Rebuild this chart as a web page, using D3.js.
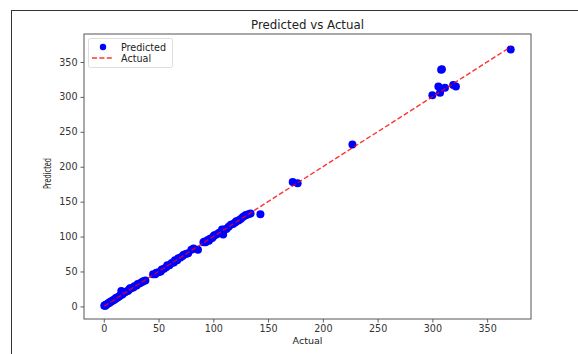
<!DOCTYPE html>
<html>
<head>
<meta charset="utf-8">
<script src="https://cdn.jsdelivr.net/npm/d3@7"></script>
<style>
  html, body { margin: 0; padding: 0; background: #fff; }
  svg { display: block; font-family: "DejaVu Sans", sans-serif; }
</style>
</head>
<body>
<svg id="chart" width="578" height="354"></svg>
<script>
const title = "Predicted vs Actual";
const xLabel = "Actual";
const yLabel = "Predicted";
const legendLabels = ["Predicted", "Actual"];
const xTicks = [0, 50, 100, 150, 200, 250, 300, 350];
const yTicks = [0, 50, 100, 150, 200, 250, 300, 350];

const actual = [0.5,1,1.5,2,3,4,5,6,7,8,9,10,11,12,13,14,15,16,17,19,20,22,23,24,25,27,28,30,31,33,35,36,38,
  45,47,48,50,52,53,55,57,58,60,62,64,65,67,68,70,72,73,75,77,80,82,86,
  91,92,93,95,96,97,99,100,101,103,105,107,108,109,110,112,114,116,118,120,121,123,125,127,129,130,132,134,143,
  172.5,177,227,300,305.5,307,308,308.7,311.5,319,321.5,371.5];
const predicted = [1,1.5,1,2.5,3,4.5,5,6.5,7,8.5,9,10,12,12,13.5,14,15.5,22,17,20,21,22,24,26,26,27,29,30,32,33,35,36,37,
  46,46,48,49,50,53,54,56,59,59,62,63,66,66,69,70,72,74,75,76,81,83,81,
  92,93,92,95,94,97,98,100,102,103,105,107,110,103,110,111,114,117,118,120,122,123,125,128,130,131,132,133,132,
  178,176.5,232,302.5,315,306,339,339.5,313,317,315,368];

const svg = d3.select("#chart");
const L = 84, R = 531, T = 34, B = 319;

// outer frame (top and left edges visible)
svg.append("line").attr("x1", 12).attr("x2", 578).attr("y1", 10.5).attr("y2", 10.5)
  .attr("stroke", "#333").attr("stroke-width", 1);
svg.append("line").attr("x1", 11.5).attr("x2", 11.5).attr("y1", 10).attr("y2", 354)
  .attr("stroke", "#333").attr("stroke-width", 1);

const xExt = d3.extent(actual);
const yExt = [Math.min(d3.min(predicted), xExt[0]), Math.max(d3.max(predicted), xExt[1])];
const xPad = (xExt[1] - xExt[0]) * 0.05;
const yPad = (yExt[1] - yExt[0]) * 0.05;
const x = d3.scaleLinear().domain([xExt[0] - xPad, xExt[1] + xPad]).range([L, R]);
const y = d3.scaleLinear().domain([yExt[0] - yPad, yExt[1] + yPad]).range([B, T]);

// scatter
const pts = actual.map((a, i) => ({a, p: predicted[i]}));
svg.append("g").selectAll("circle").data(pts).join("circle")
  .attr("cx", d => x(d.a)).attr("cy", d => y(d.p)).attr("r", 4)
  .attr("fill", "#0000ff");

// identity line
const lineData = [xExt[0], xExt[1]];
svg.append("path")
  .attr("d", d3.line().x(d => x(d)).y(d => y(d))(lineData))
  .attr("stroke", "#ff0000").attr("stroke-opacity", 0.8)
  .attr("stroke-width", 1.4).attr("stroke-dasharray", "5,2.4").attr("fill", "none");

// axes
const xAxis = d3.axisBottom(x).tickValues(xTicks).tickSizeOuter(0).tickSize(3.5).tickPadding(3);
const yAxis = d3.axisLeft(y).tickValues(yTicks).tickSizeOuter(0).tickSize(3.5).tickPadding(3);
const gx = svg.append("g").attr("transform", `translate(0,${B})`).call(xAxis);
const gy = svg.append("g").attr("transform", `translate(${L},0)`).call(yAxis);
[gx, gy].forEach(g => {
  g.select(".domain").remove();
  g.selectAll(".tick line").attr("stroke", "#333").attr("stroke-width", 0.8);
  g.selectAll(".tick text").attr("fill", "#333").attr("font-size", 9.6)
    .attr("font-family", "DejaVu Sans");
});

// spines
svg.append("rect").attr("x", L).attr("y", T).attr("width", R - L).attr("height", B - T)
  .attr("fill", "none").attr("stroke", "#555").attr("stroke-width", 1);

// title & labels
svg.append("text").attr("x", (L + R) / 2).attr("y", 29).attr("text-anchor", "middle")
  .attr("font-size", 11.8).attr("fill", "#222").text(title);
svg.append("text").attr("x", (L + R) / 2).attr("y", 344).attr("text-anchor", "middle")
  .attr("font-size", 9.5).attr("fill", "#222").text(xLabel);
svg.append("text").attr("transform", `translate(51,${(T + B) / 2 - 3}) rotate(-90)`)
  .attr("text-anchor", "middle").attr("font-size", 11).attr("fill", "#222")
  .attr("textLength", 31).attr("lengthAdjust", "spacingAndGlyphs").text(yLabel);

// legend
const lg = svg.append("g");
lg.append("rect").attr("x", 88.5).attr("y", 38.5).attr("width", 84).attr("height", 29).attr("rx", 2)
  .attr("fill", "#fff").attr("fill-opacity", 0.8).attr("stroke", "#ddd").attr("stroke-width", 1);
lg.append("circle").attr("cx", 103).attr("cy", 47).attr("r", 3.2).attr("fill", "#0000ff");
lg.append("line").attr("x1", 92).attr("x2", 113).attr("y1", 58).attr("y2", 58)
  .attr("stroke", "#ff0000").attr("stroke-opacity", 0.8).attr("stroke-width", 1.4)
  .attr("stroke-dasharray", "5,2.4");
lg.append("text").attr("x", 121).attr("y", 50.5).attr("font-size", 9.6).attr("fill", "#222").text(legendLabels[0]);
lg.append("text").attr("x", 121).attr("y", 61.5).attr("font-size", 9.6).attr("fill", "#222").text(legendLabels[1]);
</script>
</body>
</html>
